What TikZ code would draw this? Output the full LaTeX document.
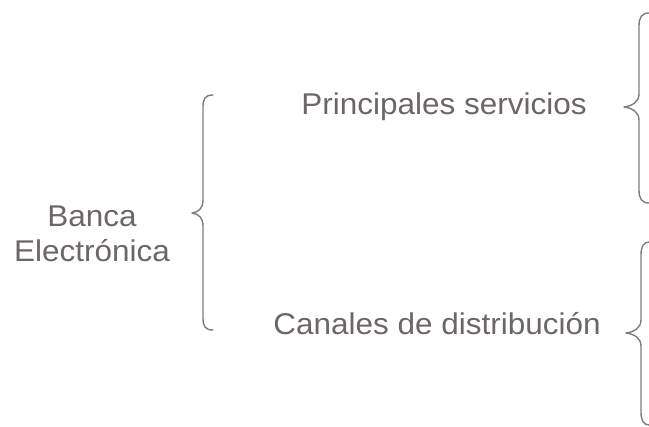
\documentclass[tikz,border=0pt]{standalone}
\usepackage{fontspec}
\setmainfont[FakeStretch=1.05]{Liberation Sans}
\definecolor{txtgray}{RGB}{108,102,104}
\definecolor{brgray}{RGB}{125,125,125}
\tikzset{
  lbl/.style={text=txtgray, font=\fontsize{30}{35}\selectfont, inner sep=0pt, anchor=base},
  brace/.style={draw=brgray, line width=1.4pt, line cap=round, line join=round}
}
\begin{document}
\begin{tikzpicture}[x=1pt,y=-1pt]
\useasboundingbox (0,0) rectangle (649,427);
% texts
\node[lbl, align=center] (banca) at (92,262) {Banca\\Electrónica};
\node[lbl] (serv) at (444,115) {Principales servicios};
\node[lbl] (canal) at (437,335) {Canales de distribución};
% brace 1
\coordinate (b1t) at (213,95);
\coordinate (b1m) at (192,213);
\coordinate (b1b) at (213,330);
\draw[brace] (b1t) .. controls (205,95) and (203,99) .. (203,107)
  -- (203,200) .. controls (203,208) and (199,212) .. (b1m)
  .. controls (199,214) and (203,218) .. (203,226)
  -- (203,318) .. controls (203,326) and (205,330) .. (b1b);
% brace 2
\coordinate (b2t) at (649,13);
\coordinate (b2m) at (624,107);
\coordinate (b2b) at (649,203);
\draw[brace] (b2t) .. controls (642,13) and (639,17) .. (639,26)
  -- (639,94) .. controls (639,102) and (632,106) .. (b2m)
  .. controls (632,108) and (639,112) .. (639,120)
  -- (639,190) .. controls (639,199) and (642,203) .. (b2b);
% brace 3
\coordinate (b3t) at (649,242);
\coordinate (b3m) at (626,333);
\coordinate (b3b) at (649,425);
\draw[brace] (b3t) .. controls (644,242) and (641,246) .. (641,255)
  -- (641,320) .. controls (641,328) and (634,332) .. (b3m)
  .. controls (634,334) and (641,338) .. (641,346)
  -- (641,412) .. controls (641,421) and (644,425) .. (b3b);
\end{tikzpicture}
\end{document}
